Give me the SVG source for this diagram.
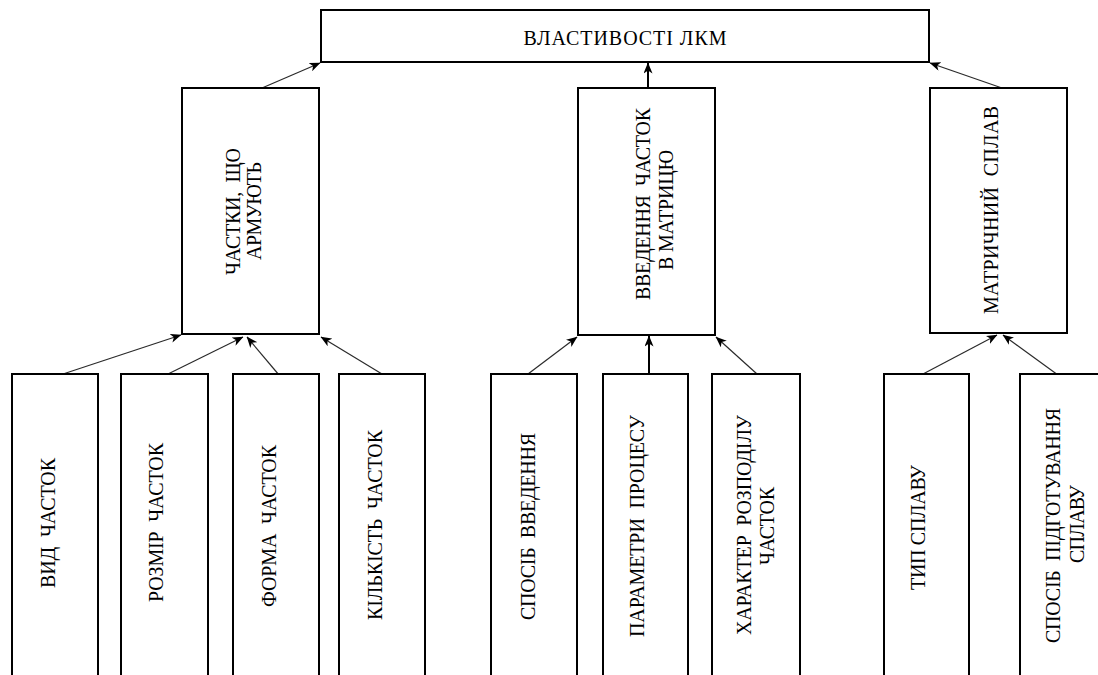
<svg xmlns="http://www.w3.org/2000/svg" width="1098" height="675" viewBox="0 0 1098 675">
<style>
.box{fill:#fff;stroke:#000;stroke-width:2}
.t{font-family:"Liberation Serif","Times New Roman",serif;font-size:20px;fill:#000;text-anchor:middle}
.c{fill:none;stroke:#2a2a2a;stroke-width:1.2;marker-end:url(#ah)}
.c.thick{stroke:#000;stroke-width:2}
</style>
<defs>
<marker id="ah" markerUnits="userSpaceOnUse" viewBox="0 0 11 9" refX="10.5" refY="4.5" markerWidth="11" markerHeight="9" orient="auto">
<path d="M0,0 L11,4.5 L0,9 L3,4.5 z" fill="#000"/>
</marker>
</defs>
<rect width="1098" height="675" fill="#fff"/>

<g id="connectors">
<line class="c" x1="262" y1="88" x2="320" y2="63"/>
<line class="c thick" x1="648" y1="88" x2="648" y2="63"/>
<line class="c" x1="1002" y1="88" x2="930" y2="63"/>
<line class="c" x1="63" y1="374" x2="181" y2="335"/>
<line class="c" x1="168" y1="374" x2="243" y2="337"/>
<line class="c" x1="279" y1="375" x2="247" y2="337"/>
<line class="c" x1="382" y1="374" x2="321" y2="337"/>
<line class="c" x1="528" y1="374" x2="577" y2="337"/>
<line class="c thick" x1="649" y1="374" x2="649" y2="336"/>
<line class="c" x1="757" y1="374" x2="716" y2="337"/>
<line class="c" x1="923" y1="374" x2="997" y2="335"/>
<line class="c" x1="1058" y1="375" x2="1003" y2="335"/>
</g>

<g id="root">
<rect class="box" x="321" y="10" width="608" height="52"/>
<text class="t" x="625" y="45" textLength="203" lengthAdjust="spacing" xml:space="preserve">ВЛАСТИВОСТІ ЛКМ</text>
</g>

<g id="reinforcing-particles">
<rect class="box" x="182" y="88" width="137" height="246"/>
<text class="t" transform="translate(240,211.5) rotate(-90)" textLength="127" lengthAdjust="spacing" xml:space="preserve">ЧАСТКИ,  ЩО</text>
<text class="t" transform="translate(261,211) rotate(-90)" textLength="98" lengthAdjust="spacing">АРМУЮТЬ</text>
</g>

<g id="particle-introduction">
<rect class="box" x="578" y="88" width="137" height="247"/>
<text class="t" transform="translate(650,204) rotate(-90)" textLength="192" lengthAdjust="spacing" xml:space="preserve">ВВЕДЕННЯ  ЧАСТОК</text>
<text class="t" transform="translate(673,210) rotate(-90)" textLength="120" lengthAdjust="spacing">В МАТРИЦЮ</text>
</g>

<g id="matrix-alloy">
<rect class="box" x="930" y="88" width="137" height="245"/>
<text class="t" transform="translate(998,210) rotate(-90)" textLength="208" lengthAdjust="spacing" xml:space="preserve">МАТРИЧНИЙ  СПЛАВ</text>
</g>

<g id="particle-type">
<rect class="box" x="12" y="374" width="86" height="310"/>
<text class="t" transform="translate(55,523) rotate(-90)" textLength="130" lengthAdjust="spacing" xml:space="preserve">ВИД  ЧАСТОК</text>
</g>

<g id="particle-size">
<rect class="box" x="121" y="374" width="87" height="310"/>
<text class="t" transform="translate(163,522.5) rotate(-90)" textLength="159" lengthAdjust="spacing" xml:space="preserve">РОЗМІР  ЧАСТОК</text>
</g>

<g id="particle-shape">
<rect class="box" x="233" y="374" width="86" height="310"/>
<text class="t" transform="translate(276,526) rotate(-90)" textLength="162" lengthAdjust="spacing" xml:space="preserve">ФОРМА  ЧАСТОК</text>
</g>

<g id="particle-quantity">
<rect class="box" x="339" y="374" width="86" height="310"/>
<text class="t" transform="translate(382,525) rotate(-90)" textLength="190" lengthAdjust="spacing" xml:space="preserve">КІЛЬКІСТЬ  ЧАСТОК</text>
</g>

<g id="introduction-method">
<rect class="box" x="491" y="374" width="86" height="310"/>
<text class="t" transform="translate(535,526.5) rotate(-90)" textLength="187" lengthAdjust="spacing" xml:space="preserve">СПОСІБ  ВВЕДЕННЯ</text>
</g>

<g id="process-parameters">
<rect class="box" x="603" y="374" width="85" height="310"/>
<text class="t" transform="translate(644,526) rotate(-90)" textLength="222" lengthAdjust="spacing" xml:space="preserve">ПАРАМЕТРИ  ПРОЦЕСУ</text>
</g>

<g id="distribution-character">
<rect class="box" x="712" y="374" width="88" height="310"/>
<text class="t" transform="translate(751,525) rotate(-90)" textLength="220" lengthAdjust="spacing" xml:space="preserve">ХАРАКТЕР  РОЗПОДІЛУ</text>
<text class="t" transform="translate(774,526) rotate(-90)" textLength="78" lengthAdjust="spacing">ЧАСТОК</text>
</g>

<g id="alloy-type">
<rect class="box" x="884" y="374" width="85" height="310"/>
<text class="t" transform="translate(925,527.5) rotate(-90)" textLength="125" lengthAdjust="spacing">ТИП СПЛАВУ</text>
</g>

<g id="alloy-preparation">
<rect class="box" x="1020" y="374" width="100" height="310"/>
<text class="t" transform="translate(1060,525.5) rotate(-90)" textLength="235" lengthAdjust="spacing" xml:space="preserve">СПОСІБ  ПІДГОТУВАННЯ</text>
<text class="t" transform="translate(1084,524) rotate(-90)" textLength="78" lengthAdjust="spacing">СПЛАВУ</text>
</g>
</svg>
